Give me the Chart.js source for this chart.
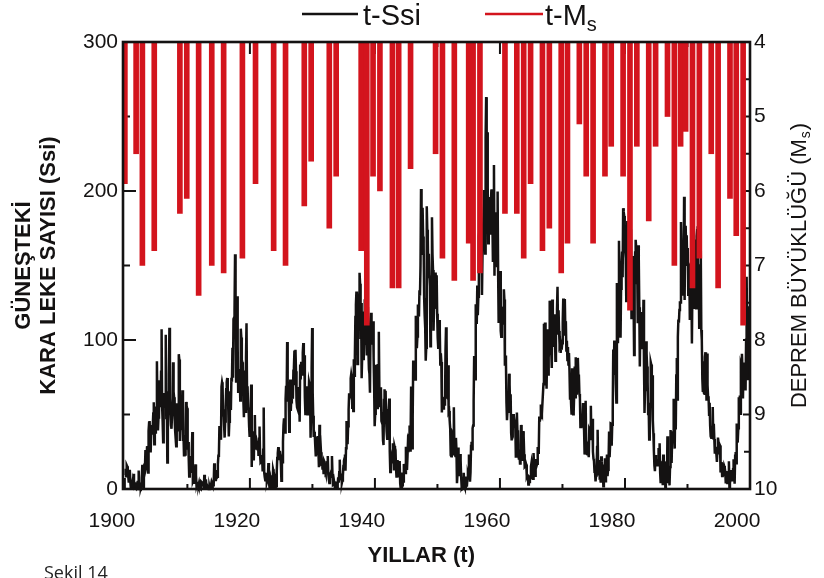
<!DOCTYPE html>
<html>
<head>
<meta charset="utf-8">
<script src="https://cdn.jsdelivr.net/npm/chart.js@4.4.1/dist/chart.umd.min.js"></script>
<style>
html,body{margin:0;padding:0;background:#fff;overflow:hidden}
#wrap{position:relative;width:824px;height:578px;background:#fff;overflow:hidden}
canvas{display:block}
#cap{position:absolute;left:44px;top:562px;font-family:"Open Sans",sans-serif;font-size:18px;line-height:20px;color:#222;white-space:nowrap}
</style>
</head>
<body>
<div id="wrap"><canvas id="c" width="824" height="578"></canvas><div id="cap">Şekil 14</div></div>
<script>
// ---- Monthly sunspot numbers (Ssi), read per decade ----
const ssi1900s = [
9.4,13.6,8.6,16.0,15.2,12.1,8.3,4.3,8.3,12.9,4.5,0.3,
0.2,2.4,4.5,0.0,10.2,5.8,0.7,1.0,0.6,3.7,3.8,0.0,
5.5,0.0,12.4,0.0,2.8,1.4,0.9,2.3,7.6,16.3,10.3,1.1,
8.3,17.0,13.5,26.1,14.6,16.3,27.9,28.8,11.1,38.9,44.5,45.6,
31.6,24.5,37.2,43.0,39.5,41.9,50.6,58.2,30.1,54.2,38.0,54.6,
54.8,85.8,56.5,39.3,48.0,49.0,73.0,58.8,55.0,78.7,107.2,55.5,
45.5,31.3,64.5,55.3,57.7,63.2,103.6,47.7,56.1,17.8,38.9,64.7,
76.4,108.2,60.7,52.6,42.9,40.4,49.7,54.3,85.0,65.4,61.5,47.3,
39.2,33.9,28.7,57.6,40.8,48.1,39.5,90.5,86.9,32.3,45.5,39.5,
56.7,46.6,66.3,32.3,36.0,22.6,35.8,23.1,38.8,58.4,55.8,54.2];
const ssi1910s = [
26.4,31.5,21.4,8.4,22.2,12.3,14.1,11.5,26.2,38.3,4.9,5.8,
3.4,9.0,7.8,16.5,9.0,2.2,3.5,4.0,4.0,2.6,4.2,2.2,
0.3,0.0,4.9,4.5,4.4,4.1,3.0,0.3,9.5,4.6,1.1,6.4,
2.3,2.9,0.5,0.9,0.0,0.0,1.7,0.2,1.2,3.1,0.7,3.8,
2.8,2.6,3.1,17.3,5.2,11.4,5.4,7.7,12.7,8.2,16.4,22.3,
23.0,42.3,38.8,41.3,33.0,68.8,71.6,69.6,49.5,53.5,42.5,34.5,
45.3,55.4,67.0,71.8,74.5,67.7,53.5,35.2,45.1,50.7,65.6,53.0,
74.7,71.9,94.8,74.7,114.1,114.9,119.8,157.5,129.4,72.2,96.4,129.3,
96.0,65.3,72.2,80.5,76.7,59.4,107.6,101.7,79.9,85.0,83.4,59.2,
48.1,79.5,66.5,51.8,88.1,111.2,64.7,69.0,54.7,52.8,42.0,34.9];
const ssi1920s = [
51.1,53.9,70.2,14.8,33.3,38.7,27.5,19.2,36.3,49.6,27.2,29.9,
31.5,28.3,26.7,32.4,22.2,33.7,41.9,22.8,17.8,18.2,17.8,20.3,
11.8,26.4,54.7,11.0,8.0,5.8,10.9,6.5,4.7,6.2,7.4,17.5,
4.5,1.5,3.3,6.1,3.2,9.1,3.5,0.5,13.2,11.6,10.0,2.8,
0.5,5.1,1.8,11.3,20.8,24.0,28.1,19.3,25.1,25.6,22.5,16.5,
5.5,23.2,18.0,31.7,42.8,47.5,38.5,37.9,60.2,69.2,58.6,98.6,
71.8,70.0,62.5,38.5,64.3,73.5,52.3,61.6,60.8,71.5,60.5,79.4,
81.6,93.0,69.6,93.5,79.1,59.1,54.9,53.8,68.4,63.1,67.2,45.2,
83.5,73.5,85.4,80.6,76.9,91.4,98.0,83.8,89.7,61.4,50.3,59.0,
68.9,64.1,50.2,52.8,58.2,71.9,70.2,65.8,34.4,54.0,81.1,108.0];
const ssi1930s = [
65.3,49.2,35.0,38.2,36.8,28.8,21.9,24.9,32.1,34.4,35.6,25.8,
14.6,43.1,30.0,31.2,24.6,15.3,17.4,13.0,19.0,10.0,18.7,17.8,
12.1,10.6,11.2,11.2,17.9,22.2,9.6,6.8,4.0,8.9,8.2,11.0,
12.3,22.2,10.1,2.9,3.2,5.2,2.8,0.2,5.1,3.0,0.6,0.3,
3.4,7.8,4.3,11.3,19.7,6.7,9.3,8.3,4.0,5.7,8.7,15.4,
18.9,20.5,23.1,12.2,27.3,45.7,33.9,30.1,42.1,53.2,64.2,61.5,
62.8,74.3,77.1,74.9,54.6,70.0,52.3,87.0,76.0,89.0,115.4,123.4,
132.5,128.5,83.9,109.3,116.7,130.3,145.1,137.7,100.7,124.9,74.4,88.8,
98.4,119.2,86.5,101.0,127.4,97.5,165.3,115.7,89.6,99.1,122.2,92.7,
80.3,77.4,64.6,109.1,118.3,101.0,97.6,105.8,112.6,88.1,68.1,42.1];
const ssi1940s = [
50.5,59.4,83.3,60.7,54.4,83.9,67.5,105.5,66.5,55.0,58.4,68.3,
45.6,44.5,46.4,32.8,29.5,59.8,66.9,60.0,65.9,46.3,38.4,33.7,
35.6,52.8,54.2,60.7,25.0,11.4,17.7,20.2,17.2,19.2,30.7,22.5,
12.4,28.9,27.4,26.1,14.1,7.6,13.2,19.4,10.0,7.8,10.2,18.8,
3.7,0.5,11.0,0.3,2.5,5.0,5.0,16.7,14.3,16.9,10.8,28.4,
18.5,12.7,21.5,32.0,30.6,36.2,42.6,25.9,34.9,68.8,46.0,27.4,
47.6,86.2,76.6,75.7,84.9,73.5,116.2,107.2,94.4,102.3,123.8,121.7,
115.7,133.4,129.8,149.8,201.3,163.9,157.9,188.8,169.4,163.6,128.0,116.5,
108.5,86.1,94.8,189.7,174.0,167.8,142.2,157.9,143.3,136.3,95.8,138.0,
119.1,182.3,157.5,147.0,106.2,121.7,125.8,123.8,145.3,131.6,143.5,117.6];
const ssi1950s = [
101.6,94.8,109.7,113.4,106.2,83.6,91.0,85.2,51.3,61.4,54.8,54.1,
59.9,59.4,55.9,92.9,108.5,100.6,61.5,61.0,83.1,51.6,52.4,45.8,
40.7,22.7,22.0,29.1,23.4,36.4,39.3,54.9,28.2,23.8,22.1,34.3,
26.5,3.9,10.0,27.8,12.5,21.8,8.6,23.5,19.3,8.2,1.6,2.5,
0.2,0.5,10.9,1.8,0.8,0.2,4.8,8.4,1.5,7.0,9.2,7.6,
23.1,20.8,4.9,11.3,28.9,31.7,26.7,40.7,42.7,58.5,89.2,76.9,
73.6,124.0,118.4,110.7,136.6,116.6,129.1,169.6,173.2,155.3,201.3,192.1,
165.0,130.2,157.4,175.2,164.6,200.7,187.2,158.0,235.8,263.0,210.9,239.4,
202.5,164.9,190.7,196.0,175.3,171.5,191.4,200.2,201.2,181.5,152.3,187.6,
217.4,143.1,185.7,163.3,172.0,168.7,149.6,199.6,145.2,111.4,124.0,125.0];
const ssi1960s = [
146.3,106.0,102.2,122.0,119.6,110.2,121.7,134.1,127.2,82.8,89.6,85.6,
57.9,46.1,53.0,61.4,51.0,77.4,70.2,55.8,63.6,37.7,32.6,39.9,
38.7,50.3,45.6,46.4,43.7,42.0,21.8,21.8,51.3,39.5,26.9,23.2,
19.8,24.4,17.1,29.3,43.0,35.9,19.6,33.2,38.8,35.3,23.4,14.9,
15.3,17.7,16.5,8.6,9.5,9.1,3.1,9.3,4.7,6.1,7.4,15.1,
17.5,14.2,11.7,6.8,24.1,15.9,11.9,8.9,16.8,20.1,15.8,17.0,
28.2,24.4,25.3,48.7,45.3,47.7,56.7,51.2,50.2,57.2,57.2,70.4,
110.9,93.6,111.8,69.5,86.5,67.3,91.5,107.2,76.8,88.2,94.3,126.4,
121.8,111.9,92.2,81.2,127.2,110.3,96.1,109.3,117.2,107.7,86.0,109.8,
104.4,120.5,135.8,106.8,120.0,106.0,96.8,98.0,91.3,95.7,93.5,97.9];
const ssi1970s = [
111.5,127.8,102.9,109.5,127.5,106.8,112.5,93.0,99.5,86.6,95.2,83.5,
91.3,79.0,60.7,71.8,57.5,49.8,81.0,61.4,50.2,51.7,63.2,82.2,
61.5,88.4,80.1,63.2,80.5,88.0,76.5,76.8,64.0,61.3,41.6,45.3,
43.4,42.9,46.0,57.7,42.4,39.5,23.1,25.6,59.3,30.7,23.9,23.3,
27.6,26.0,21.3,40.3,39.5,36.0,55.8,33.6,40.2,47.1,25.0,20.5,
18.9,11.5,11.5,5.1,9.0,11.4,28.2,39.7,13.9,9.1,19.4,7.8,
8.1,4.3,21.9,18.8,12.4,12.2,1.9,16.4,13.5,20.6,5.2,15.3,
16.4,23.1,8.7,12.9,18.6,38.5,21.4,30.1,44.0,43.8,29.1,43.2,
51.9,93.6,76.5,99.7,82.7,95.1,70.4,58.1,138.2,125.1,97.9,122.7,
166.6,137.5,138.0,101.5,134.4,149.5,159.4,142.2,188.4,186.2,183.3,176.3];
const ssi1980s = [
159.6,155.0,126.2,164.1,179.9,157.3,136.3,135.4,155.0,164.7,147.9,174.4,
114.0,141.3,135.5,156.4,127.5,90.0,143.8,158.7,167.3,162.4,137.5,150.1,
111.2,163.6,153.8,122.0,82.2,110.4,106.1,107.6,118.8,94.7,98.1,127.0,
84.3,51.0,66.5,80.7,99.2,91.1,82.2,71.8,50.3,55.8,33.3,33.4,
57.0,85.1,83.5,69.7,76.4,46.1,37.4,25.5,15.7,12.0,22.8,18.7,
16.5,15.9,17.2,16.2,27.5,24.2,30.7,11.1,3.9,18.6,16.2,17.3,
2.5,23.2,15.1,18.5,13.7,1.1,18.1,7.4,3.8,35.4,15.2,6.8,
10.4,2.4,14.7,39.6,33.0,17.4,33.0,38.7,33.9,60.6,39.9,27.1,
59.0,40.0,76.2,88.0,60.1,101.8,113.8,111.6,120.1,125.1,125.1,179.2,
161.3,165.1,131.4,130.6,138.5,196.2,126.9,168.9,176.7,159.4,170.3,150.5];
const ssi1990s = [
161.7,130.4,148.0,148.9,113.4,118.2,128.9,140.2,97.6,138.6,131.4,121.7,
136.9,167.5,141.9,140.0,121.3,169.7,173.7,176.3,125.3,144.1,108.2,144.4,
150.0,161.1,106.7,99.8,73.8,65.2,85.7,64.5,63.9,88.7,91.8,82.6,
59.3,91.0,69.8,62.2,61.3,49.8,57.9,42.4,35.4,34.4,41.4,38.6,
55.0,34.0,43.8,33.6,23.7,28.3,24.7,23.3,18.2,26.8,34.5,31.6,
24.0,30.0,29.2,11.1,13.3,18.1,8.7,17.3,9.4,10.6,15.4,14.3,
11.7,3.7,11.9,9.3,4.1,9.4,10.5,18.6,1.3,4.0,6.5,12.7,
5.7,8.1,5.2,13.2,19.9,13.3,3.5,22.3,24.9,17.2,43.9,32.3,
32.2,40.7,61.6,57.8,62.7,50.5,83.5,82.2,90.8,80.7,60.8,83.5,
71.5,84.9,83.1,66.1,100.1,142.4,106.1,95.3,73.9,116.4,122.6,107.6];
const decadeStarts = [1900,1910,1920,1930,1940,1950,1960,1970,1980,1990];

// ---- Earthquakes (t-Ms): year and magnitude ----
const eqYears = [1900.0,1901.8,1902.8,1904.7,1908.8,1909.9,1911.8,1913.9,1915.8,1918.8,
1920.9,1923.8,1925.7,1928.7,1929.8,1932.7,1933.8,1937.8,1938.7,1939.7,
1940.8,1942.8,1943.8,1945.7,1949.7,1950.8,1952.7,1955.0,1955.7,1956.8,
1960.8,1962.7,1963.8,1964.9,1966.8,1967.9,1969.8,1970.8,1972.7,1973.8,
1974.9,1976.8,1977.8,1979.7,1980.8,1981.9,1983.8,1984.9,1986.8,1987.9,
1988.9,1989.7,1990.8,1991.9,1993.8,1994.9,1996.8,1997.8,1998.9];
const eqMagnitudes = [5.9,5.5,7.0,6.8,6.3,6.1,7.4,7.0,7.1,6.9,
5.9,6.8,7.0,6.2,5.6,6.5,5.8,6.8,7.8,5.8,
6.0,7.3,7.3,5.7,5.5,6.9,7.2,6.7,7.2,7.1,
6.3,6.3,6.9,5.9,6.8,6.5,7.1,6.7,5.1,5.8,
6.7,5.8,5.4,5.8,7.6,5.4,6.4,5.4,5.0,7.0,
5.4,5.2,7.3,6.9,5.5,7.3,6.1,6.6,7.8];

// ---- Ticks ----
const xLabelYears = [1900,1920,1940,1960,1980,2000];
const xMinorYears = [1910,1930,1950,1970,1990];
const leftTicks = [0,100,200,300];
const leftMinorTicks = [50,150,250];
const rightTicks = [4,5,6,7,8,9,10];
const rightMinorTicks = [4.5,5.5,6.5,7.5,8.5,9.5];

const legendSsi = 't-Ssi';
const legendMs = 't-M';
const leftTitle = ['GÜNEŞTEKİ', 'KARA LEKE SAYISI (Ssi)'];
const rightTitle = 'DEPREM BÜYÜKLÜĞÜ (M';
const xTitle = 'YILLAR (t)';

const FONT = '"Liberation Sans", Arial, Helvetica, sans-serif';
const INK = '#141212';
const RED = '#d3141d';

const ssiDecades = [ssi1900s,ssi1910s,ssi1920s,ssi1930s,ssi1940s,ssi1950s,ssi1960s,ssi1970s,ssi1980s,ssi1990s];
const ssiPoints = [];
ssiDecades.forEach((arr, d) => arr.forEach((v, i) => ssiPoints.push({x: decadeStarts[d] + (i + 0.5) / 12, y: v})));
const eqBars = eqYears.map((yr, i) => ({x: yr, y: [4, eqMagnitudes[i]]}));

const decorPlugin = {
  id: 'decor',
  beforeDatasetsDraw(chart) {
    const {ctx, chartArea: a, scales} = chart;
    const {x, y, y2} = scales;
    ctx.save();
    ctx.strokeStyle = INK;
    ctx.lineWidth = 2;
    const vl = (px, y0, y1) => { ctx.beginPath(); ctx.moveTo(px, y0); ctx.lineTo(px, y1); ctx.stroke(); };
    const hl = (py, x0, x1) => { ctx.beginPath(); ctx.moveTo(x0, py); ctx.lineTo(x1, py); ctx.stroke(); };
    xLabelYears.forEach(t => { const p = x.getPixelForValue(t); vl(p, a.bottom, a.bottom - 11); vl(p, a.top, a.top + 12); });
    xMinorYears.forEach(t => { const p = x.getPixelForValue(t); vl(p, a.bottom, a.bottom - 5); vl(p, a.top, a.top + 5); });
    leftTicks.forEach(t => hl(y.getPixelForValue(t), a.left, a.left + 13));
    leftMinorTicks.forEach(t => hl(y.getPixelForValue(t), a.left, a.left + 7));
    rightTicks.forEach(t => hl(y2.getPixelForValue(t), a.right, a.right - 7));
    rightMinorTicks.forEach(t => hl(y2.getPixelForValue(t), a.right, a.right - 6));
    ctx.restore();
  },
  afterDraw(chart) {
    const {ctx, chartArea: a} = chart;
    ctx.save();
    // frame
    ctx.strokeStyle = INK;
    ctx.lineWidth = 2.6;
    ctx.strokeRect(a.left, a.top, a.right - a.left, a.bottom - a.top);
    // right title, reading bottom to top
    ctx.translate(800, (a.top + a.bottom) / 2);
    ctx.rotate(-Math.PI / 2);
    ctx.fillStyle = INK;
    ctx.textBaseline = 'middle';
    ctx.textAlign = 'left';
    const f1 = '22px ' + FONT, f2 = '14px ' + FONT;
    ctx.font = f1; const w1 = ctx.measureText(rightTitle).width; const w3 = ctx.measureText(')').width;
    ctx.font = f2; const w2 = ctx.measureText('s').width;
    let sx = -(w1 + w2 + 2 + w3) / 2;
    ctx.font = f1; ctx.fillText(rightTitle, sx, 0);
    ctx.font = f2; ctx.fillText('s', sx + w1 + 1, 6);
    ctx.font = f1; ctx.fillText(')', sx + w1 + w2 + 2, 0);
    ctx.restore();
    // legend
    ctx.save();
    ctx.lineWidth = 2.6;
    ctx.strokeStyle = INK;
    ctx.beginPath(); ctx.moveTo(302, 14); ctx.lineTo(358, 14); ctx.stroke();
    ctx.strokeStyle = RED;
    ctx.beginPath(); ctx.moveTo(485, 14); ctx.lineTo(543, 14); ctx.stroke();
    ctx.fillStyle = INK;
    ctx.textBaseline = 'alphabetic';
    ctx.font = '29px ' + FONT;
    ctx.fillText(legendSsi, 363, 25);
    ctx.fillText(legendMs, 545, 25);
    const wm = ctx.measureText(legendMs).width;
    ctx.font = '20px ' + FONT;
    ctx.fillText('s', 545 + wm, 31);
    ctx.restore();
  }
};

new Chart(document.getElementById('c'), {
  type: 'line',
  data: {
    datasets: [
      {type: 'bar', label: 't-Ms', data: eqBars, xAxisID: 'x', yAxisID: 'y2',
       backgroundColor: RED, borderWidth: 0, barThickness: 5, order: 0},
      {type: 'line', label: 't-Ssi', data: ssiPoints, xAxisID: 'x', yAxisID: 'y',
       borderColor: INK, borderWidth: 2.5, borderJoinStyle: 'miter', pointRadius: 0, tension: 0, fill: false, order: 1,
       clip: {left: 0, top: 0, right: 0, bottom: 12}}
    ]
  },
  options: {
    responsive: false,
    devicePixelRatio: 1,
    animation: false,
    events: [],
    layout: {padding: {top: 42, left: 0, right: 0, bottom: 0}},
    plugins: {legend: {display: false}, tooltip: {enabled: false}},
    scales: {
      x: {
        type: 'linear', position: 'bottom', min: 1899.7, max: 2000, offset: false,
        grid: {display: false, drawTicks: false}, border: {display: false},
        afterBuildTicks: s => { s.ticks = xLabelYears.map(v => ({value: v})); },
        afterFit: s => { s.height = 89; },
        ticks: {padding: 20, labelOffset: -13, maxRotation: 0, autoSkip: false,
                color: INK, font: {family: FONT, size: 21}, callback: v => String(v)},
        title: {display: true, text: xTitle + '\u00a0\u00a0\u00a0\u00a0\u00a0', color: INK,
                font: {family: FONT, size: 22, weight: 'bold'}, padding: {top: 0, bottom: 9}}
      },
      y: {
        type: 'linear', position: 'left', min: 0, max: 300,
        grid: {display: false, drawTicks: false}, border: {display: false},
        afterBuildTicks: s => { s.ticks = leftTicks.map(v => ({value: v})); },
        afterFit: s => { s.width = 123; },
        ticks: {padding: 5, color: INK, font: {family: FONT, size: 21}, callback: v => String(v)},
        title: {display: true, text: leftTitle, color: INK,
                font: {family: FONT, size: 22, weight: 'bold', lineHeight: 1.15}, padding: {top: 11, bottom: 0}}
      },
      y2: {
        type: 'linear', position: 'right', min: 4, max: 10, reverse: true,
        grid: {display: false, drawTicks: false}, border: {display: false},
        afterBuildTicks: s => { s.ticks = rightTicks.map(v => ({value: v})); },
        afterFit: s => { s.width = 74; },
        ticks: {padding: 4, color: INK, font: {family: FONT, size: 21}, callback: v => String(v)},
        title: {display: false}
      }
    }
  },
  plugins: [decorPlugin]
});
</script>
</body>
</html>
